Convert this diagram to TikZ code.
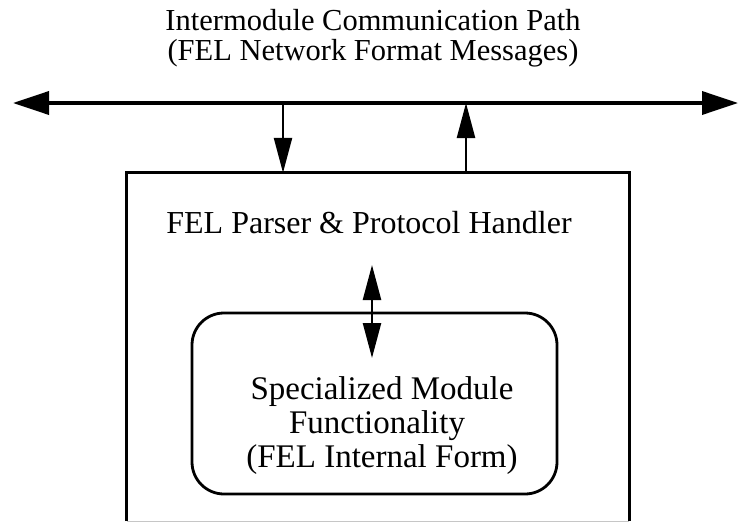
\documentclass[tikz,border=0pt]{standalone}
\usepackage{fontspec}
\setmainfont{Liberation Serif}
\usetikzlibrary{arrows.meta}
\begin{document}
\begin{tikzpicture}[x=1pt,y=-1pt,
  txt/.style={inner sep=0pt, anchor=base},
  titlefont/.style={font=\fontsize{30.5}{33}\selectfont},
  bodyfont/.style={font=\fontsize{32}{34}\selectfont},
  innerfont/.style={font=\fontsize{33}{35}\selectfont},
  bus/.style={line width=3.6pt, {Triangle[length=36pt,width=23pt]}-{Triangle[length=36pt,width=23pt]}},
  vflow/.style={line width=2.4pt, -{Triangle[length=35pt,width=18pt]}},
  dflow/.style={line width=2.4pt, {Triangle[length=35pt,width=18pt]}-{Triangle[length=35pt,width=18pt]}},
  boxline/.style={line width=2.8pt}]
\useasboundingbox (0,0) rectangle (739,522);
% title
\node[txt, titlefont] (t1) at (373,30) {Intermodule Communication Path};
\node[txt, titlefont] (t2) at (373,60) {(FEL Network Format Messages)};
% bus
\coordinate (L) at (13,103);
\coordinate (R) at (738,103);
\draw[bus] (L) -- (R);
% outer box
\node[minimum width=502pt, minimum height=348pt, inner sep=0pt] (outer) at (378,347) {};
\draw[boxline] (outer.south west) -- (outer.north west) -- (outer.north east) -- (outer.south east);
\draw[gray!45, line width=1.2pt] (outer.south west) -- (outer.south east);
% arrows between bus and box
\coordinate (dn) at (283,103);
\coordinate (up) at (466,103);
\draw[vflow] (dn) -- (dn |- outer.north);
\draw[vflow] (up |- outer.north) -- (up);
% parser text
\node[txt, bodyfont] (parser) at (369,233) {FEL Parser \& Protocol Handler};
% inner rounded box
\node[draw, boxline, rounded corners=32pt, minimum width=365pt, minimum height=181pt, inner sep=0pt] (inner) at (374.5,403.5) {};
% double arrow
\coordinate (a1) at (372,265);
\coordinate (a2) at (372,358);
\draw[dflow] (a1) -- (a2);
% inner text
\node[txt, innerfont] (s1) at (382,399) {Specialized Module};
\node[txt, innerfont] (s2) at (377,433) {Functionality};
\node[txt, innerfont] (s3) at (382,467) {(FEL Internal Form)};
\end{tikzpicture}
\end{document}
